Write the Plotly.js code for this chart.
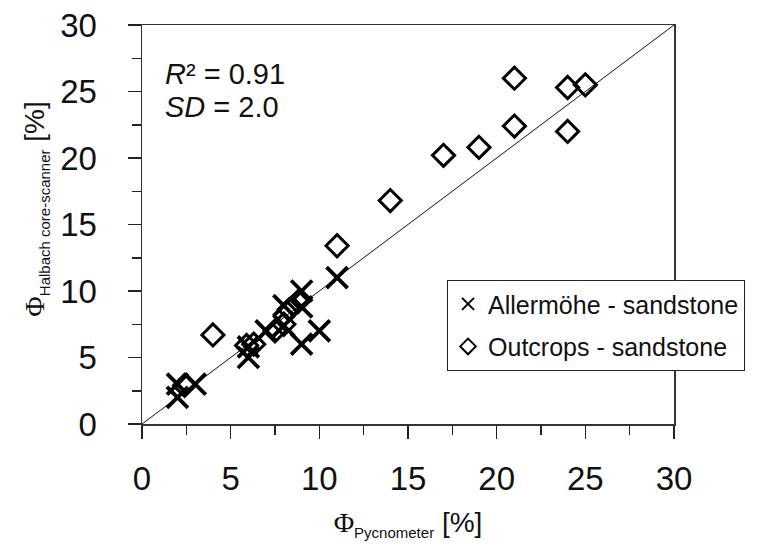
<!DOCTYPE html>
<html>
<head>
<meta charset="utf-8">
<script src="https://cdn.plot.ly/plotly-3.0.1.min.js"></script>
<style>html,body{margin:0;padding:0;background:#fff}#chart{width:758px;height:550px}</style>
</head>
<body>
<div id="chart"></div>
<script>
// Allermöhe - sandstone (crosses)
const allermoeheX = [2, 2, 3, 6, 6, 7, 8, 8, 9, 9, 9, 10, 11];
const allermoeheY = [2, 3, 3, 5, 5.8, 7, 7.4, 8.9, 10, 8.8, 6, 7, 11];
// Outcrops - sandstone (diamonds)
const outcropsX = [2.4, 4, 5.9, 6.3, 7.5, 8, 8.3, 8.8, 11, 14, 17, 19, 21, 21, 24, 24, 25];
const outcropsY = [2.9, 6.7, 5.9, 6.0, 7.0, 7.5, 8.6, 9.2, 13.4, 16.8, 20.2, 20.8, 26.0, 22.4, 25.3, 22.0, 25.5];
// 1:1 line
const lineX = [0, 30];
const lineY = [0, 30];
const tickVals = [0, 5, 10, 15, 20, 25, 30];
const tickText = ['0', '5', '10', '15', '20', '25', '30'];

const SANS = 'Liberation Sans, Arial, sans-serif';

const traces = [
  {x: lineX, y: lineY, mode: 'lines', line: {color: '#111', width: 1}, showlegend: false, hoverinfo: 'skip'},
  {x: allermoeheX, y: allermoeheY, mode: 'markers', name: 'Allermöhe - sandstone', legendgroup: 'a',
   marker: {symbol: 'x-thin-open', size: 21, color: '#000', line: {color: '#000', width: 3.8}}},
  {x: outcropsX, y: outcropsY, mode: 'markers', name: 'Outcrops - sandstone', legendgroup: 'b',
   marker: {symbol: 'diamond-open', size: 17, color: '#000', line: {color: '#000', width: 3}}}
];

const axisCommon = {
  range: [0, 30], tickvals: tickVals, ticktext: tickText,
  showgrid: false, zeroline: false,
  showline: true, linecolor: '#333', linewidth: 1.5, mirror: true,
  ticks: 'outside', ticklen: 13, tickwidth: 1.5, tickcolor: '#222',
  minor: {dtick: 2.5, tick0: 0, ticks: 'outside', ticklen: 9, tickwidth: 1.5, tickcolor: '#222', showgrid: false},
  tickfont: {family: SANS, size: 33, color: '#111'}
};

const layout = {
  width: 758, height: 550,
  margin: {l: 142, r: 84, t: 25, b: 126},
  paper_bgcolor: '#fff', plot_bgcolor: '#fff',
  font: {family: SANS, color: '#111'},
  xaxis: Object.assign({}, axisCommon, {
    ticklabelstandoff: 12,
    title: {text: '<span style="font-family:Liberation Serif">Φ</span><sub><span style="font-size:15px">Pycnometer</span></sub> [%]',
            font: {family: SANS, size: 28, color: '#111'}, standoff: 16}
  }),
  yaxis: Object.assign({}, axisCommon, {
    ticklabelstandoff: 24,
    title: {text: '&nbsp;&nbsp;&nbsp;&nbsp;<span style="font-family:Liberation Serif">Φ</span><sub><span style="font-size:15px">Halbach core-scanner</span></sub> [%]',
            font: {family: SANS, size: 28, color: '#111'}, standoff: 7}
  }),
  legend: {
    x: 0.573, y: 0.361, xanchor: 'left', yanchor: 'top',
    bgcolor: '#fff', bordercolor: '#222', borderwidth: 1.2,
    font: {family: SANS, size: 25, color: '#111'},
    itemsizing: 'constant', traceorder: 'grouped', tracegroupgap: 7
  },
  annotations: [
    {xref: 'paper', yref: 'paper', x: 0.04, y: 0.877, xanchor: 'left', yanchor: 'middle', showarrow: false,
     text: '<i>R</i>² = 0.91', font: {family: SANS, size: 29, color: '#111'}},
    {xref: 'paper', yref: 'paper', x: 0.04, y: 0.795, xanchor: 'left', yanchor: 'middle', showarrow: false,
     text: '<i>SD</i> = 2.0', font: {family: SANS, size: 29, color: '#111'}}
  ],
  showlegend: true
};

Plotly.newPlot('chart', traces, layout, {displayModeBar: false, staticPlot: true});
</script>
</body>
</html>
